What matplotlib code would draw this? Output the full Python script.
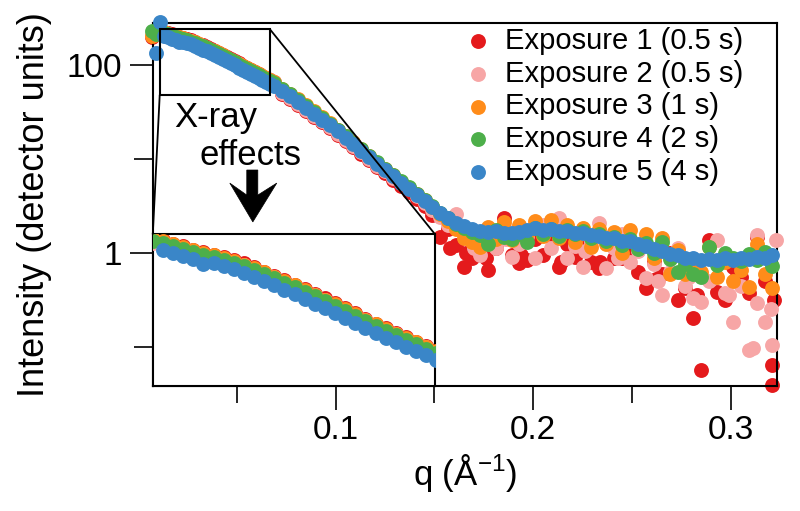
import numpy as np
from matplotlib import pyplot as plt
from matplotlib.patches import Rectangle, Polygon, ConnectionPatch

plt.rcParams['font.family'] = ['Liberation Sans', 'DejaVu Sans']
plt.rcParams['mathtext.fontset'] = 'custom'
plt.rcParams['mathtext.rm'] = 'Liberation Sans'

nan = float('nan')

# q values (1/Angstrom): finer steps below 0.07, coarser above
q_low = [0.007, 0.009, 0.011, 0.013, 0.015, 0.017, 0.019, 0.021, 0.023, 0.025, 0.027,
         0.029, 0.031, 0.033, 0.035, 0.037, 0.039, 0.041, 0.043, 0.045, 0.047, 0.049,
         0.051, 0.053, 0.055, 0.057, 0.059, 0.061, 0.063, 0.065, 0.067, 0.069]
q_high = [0.073, 0.077, 0.081, 0.085, 0.089, 0.093, 0.097, 0.101, 0.105, 0.109, 0.113,
          0.117, 0.121, 0.125, 0.129, 0.133, 0.137, 0.141, 0.145, 0.149, 0.153, 0.157,
          0.161, 0.165, 0.169, 0.173, 0.177, 0.181, 0.185, 0.189, 0.193, 0.197, 0.201,
          0.205, 0.209, 0.213, 0.217, 0.221, 0.225, 0.229, 0.233, 0.237, 0.241, 0.245,
          0.249, 0.253, 0.257, 0.261, 0.265, 0.269, 0.273, 0.277, 0.281, 0.285, 0.289,
          0.293, 0.297, 0.301, 0.305, 0.309, 0.313, 0.317, 0.321]

# log10 of intensity (detector units)
log_i_exp1 = [2.30, 2.34, 2.35, 2.352, 2.338, 2.325, 2.310, 2.298, 2.286, 2.275, 2.262,
              2.246, 2.228, 2.209, 2.190, 2.170, 2.149, 2.128, 2.106, 2.085, 2.062, 2.040,
              2.017, 1.992, 1.968, 1.948, 1.926, 1.906, 1.885, 1.866, 1.845, 1.822,
              1.69, 1.64, 1.58, 1.515, 1.45, 1.39, 1.325, 1.26, 1.19, 1.125, 1.05, 0.985,
              0.915, 0.85, 0.78, 0.715, 0.65, 0.58, 0.50, 0.40, 0.17, 0.26, 0.09, -0.15,
              -0.05, 0.10, -0.18, 0.05, 0.37, -0.02, -0.11, -0.07, 0.15, -0.02, 0.20, -0.15,
              0.10, -0.04, 0.05, -0.10, -0.16, 0.12, -0.05, -0.05, 0.05, -0.20, -0.37, -0.10,
              -0.22, 0.00, -0.50, -0.37, -0.69, -1.245, 0.14, -0.41, -0.50, -0.15, -0.25,
              -0.43, 0.17, -0.30, -1.40]
log_i_exp2 = [2.32, 2.33, 2.34, 2.347, 2.331, 2.319, 2.303, 2.290, 2.279, 2.267, 2.255,
              2.238, 2.221, 2.203, 2.183, 2.162, 2.142, 2.120, 2.099, 2.077, 2.055, 2.033,
              2.009, 1.984, 1.962, 1.941, 1.920, 1.899, 1.879, 1.859, 1.839, 1.815,
              1.70, 1.650, 1.590, 1.525, 1.462, 1.400, 1.336, 1.27, 1.205, 1.14, 1.07, 1.00,
              0.93, 0.87, 0.80, 0.74, 0.69, 0.61, 0.53, 0.46, 0.38, 0.30, 0.42, 0.20, 0.15,
              -0.02, 0.12, 0.05, 0.28, -0.04, 0.10, 0.18, -0.05, 0.30, 0.05, 0.37, -0.05,
              0.08, -0.15, 0.12, 0.32, -0.16, 0.05, 0.20, -0.10, 0.02, -0.27, -0.12, -0.45,
              -0.20, 0.05, -0.35, -0.48, -0.52, -0.30, 0.14, -0.42, -0.73, -0.35, -1.03,
              -0.53, -0.73, -0.98]
log_i_exp3 = [2.31, 2.35, 2.36, 2.350, 2.334, 2.322, 2.306, 2.293, 2.283, 2.270, 2.259,
              2.241, 2.224, 2.206, 2.186, 2.165, 2.145, 2.123, 2.102, 2.080, 2.058, 2.036,
              2.012, 1.987, 1.965, 1.944, 1.923, 1.902, 1.882, 1.862, 1.842, 1.818,
              1.748, 1.694, 1.636, 1.572, 1.507, 1.444, 1.380, 1.314, 1.246, 1.176, 1.106,
              1.035, 0.963, 0.895, 0.827, 0.760, 0.693, 0.626, 0.560, 0.494, 0.41, 0.34,
              0.26, 0.16, 0.12, 0.06, 0.28, 0.15, 0.33, 0.14, 0.30, 0.20, 0.34, 0.18, 0.35,
              0.16, 0.30, 0.12, 0.27, 0.06, 0.26, 0.10, 0.22, 0.00, 0.24, 0.05, 0.20, -0.05,
              0.16, -0.22, 0.03, -0.22, -0.08, -0.20, 0.06, -0.25, -0.10, -0.30, -0.18,
              -0.36, 0.10, -0.22, -0.37]
log_i_exp4 = [2.36, 2.33, 2.35, 2.342, 2.326, 2.314, 2.298, 2.285, 2.274, 2.262, 2.250,
              2.233, 2.216, 2.198, 2.178, 2.157, 2.137, 2.115, 2.094, 2.072, 2.050, 2.028,
              2.004, 1.979, 1.957, 1.936, 1.915, 1.894, 1.874, 1.854, 1.834, 1.81,
              1.745, 1.69, 1.632, 1.568, 1.503, 1.440, 1.376, 1.311, 1.244, 1.175, 1.106,
              1.036, 0.965, 0.898, 0.830, 0.764, 0.698, 0.632, 0.566, 0.500, 0.43, 0.37,
              0.31, 0.27, 0.22, 0.19, 0.10, 0.24, 0.17, 0.15, 0.20, 0.12, 0.27, 0.20, 0.26,
              0.18, 0.25, 0.20, 0.23, 0.16, 0.20, 0.13, 0.17, 0.09, 0.15, 0.04, 0.11, 0.00,
              0.12, -0.06, -0.20, -0.12, -0.22, -0.26, 0.06, -0.13, 0.00, -0.05, -0.09,
              -0.01, -0.07, 0.01, -0.14]
log_i_exp5 = [nan, 2.13, 2.46, 2.31, 2.294, 2.282, 2.265, 2.245, 2.25, 2.236, 2.222,
              2.200, 2.184, 2.165, 2.145, 2.124, 2.104, 2.082, 2.061, 2.039, 2.018, 1.996,
              1.972, 1.947, 1.924, 1.903, 1.883, 1.862, 1.843, 1.823, 1.803, 1.78,
              1.72, 1.666, 1.609, 1.546, 1.482, 1.420, 1.357, 1.293, 1.227, 1.158, 1.089,
              1.020, 0.950, 0.883, 0.816, 0.750, 0.684, 0.619, 0.554, 0.488, 0.425, 0.368,
              0.32, 0.283, 0.255, 0.238, 0.222, 0.230, 0.210, 0.218, 0.225, 0.245, 0.262,
              0.248, 0.252, 0.232, 0.236, 0.215, 0.212, 0.190, 0.182, 0.160, 0.158, 0.132,
              0.128, 0.095, 0.078, 0.038, 0.022, -0.015, -0.025, -0.055, -0.050, -0.072,
              -0.062, -0.078, -0.058, -0.075, -0.055, -0.064, -0.042, -0.050, -0.025]

# extra scattered points of the two short exposures
q_extra_exp1 = [0.158, 0.166, 0.176, 0.194, 0.214, 0.234, 0.262, 0.283, 0.303, 0.321, 0.322]
log_i_extra_exp1 = [0.05, 0.00, -0.05, -0.02, -0.10, -0.10, -0.28, -0.45, -0.20, -1.19, -0.50]
q_extra_exp2 = [0.170, 0.186, 0.206, 0.226, 0.243, 0.263, 0.279, 0.299, 0.311, 0.313, 0.3205, 0.323]
log_i_extra_exp2 = [0.05, 0.15, 0.28, 0.02, -0.05, -0.30, -0.25, -0.45, -1.01, 0.19, -0.60, 0.14]

labels = ['Exposure 1 (0.5 s)', 'Exposure 2 (0.5 s)', 'Exposure 3 (1 s)',
          'Exposure 4 (2 s)', 'Exposure 5 (4 s)']
colors = ['#e41a1c', '#f7a6a6', '#ff8c1a', '#4daf4a', '#3a86c8']

q = np.array(q_low + q_high)
series = [log_i_exp1, log_i_exp2, log_i_exp3, log_i_exp4, log_i_exp5]
extras = {0: (q_extra_exp1, log_i_extra_exp1), 1: (q_extra_exp2, log_i_extra_exp2)}

# zoomed region shown in the inset
zoom_q = (0.011, 0.0667)
zoom_i = (48, 241)

fig = plt.figure(figsize=(8, 5.11), dpi=100)
ax = fig.add_axes([0.191, 0.2446, 0.780, 0.7104])
axins = fig.add_axes([0.191, 0.2446, 0.3525, 0.2975])

ms = 115
handles = []
for k, (vals, lab, col) in enumerate(zip(series, labels, colors)):
    qq, ll = q, np.array(vals)
    if k in extras:
        qq = np.concatenate([q, extras[k][0]])
        ll = np.concatenate([ll, extras[k][1]])
    h = ax.scatter(qq, 10 ** ll, s=ms, color=col, linewidths=0, label=lab,
                   clip_on=False, zorder=2 + k)
    axins.scatter(qq, 10 ** ll, s=ms, color=col, linewidths=0, zorder=2 + k)
    handles.append(h)

ax.set_yscale('log')
ax.set_xlim(0.0075, 0.3232)
ax.set_ylim(0.0385, 280)
ax.set_xticks([0.1, 0.2, 0.3], ['0.1', '0.2', '0.3'])
ax.set_xticks([0.05, 0.15, 0.25], minor=True)
ax.set_yticks([1, 100], ['1', '100'])
ax.set_yticks([0.1, 10], minor=True)
ax.yaxis.set_minor_formatter(plt.NullFormatter())
ax.tick_params(axis='x', which='major', length=17, width=1.2, labelsize=24, pad=4)
ax.tick_params(axis='x', which='minor', length=12, width=1.2)
ax.tick_params(axis='y', which='major', length=16.5, width=1.2, labelsize=24, pad=6)
ax.tick_params(axis='y', which='minor', length=14, width=1.2)
for sp in ax.spines.values():
    sp.set_linewidth(1.5)
ax.set_xlabel(r'q (Å$^{\mathregular{-1}}$)', fontsize=25, labelpad=4)
ax.set_ylabel('Intensity (detector units)', fontsize=26, labelpad=10)

axins.set_yscale('log')
axins.set_xlim(*zoom_q)
axins.set_ylim(*zoom_i)
axins.set_xticks([])
axins.set_yticks([])
axins.yaxis.set_minor_locator(plt.NullLocator())
for sp in axins.spines.values():
    sp.set_linewidth(1.5)

ax.add_patch(Rectangle((zoom_q[0], zoom_i[0]), zoom_q[1] - zoom_q[0], zoom_i[1] - zoom_i[0],
                       fill=False, lw=1.5, ec='black', zorder=10))
for xa, xb in [((zoom_q[1], zoom_i[1]), (1, 1)), ((zoom_q[0], zoom_i[0]), (0, 1))]:
    con = ConnectionPatch(xyA=xa, coordsA=ax.transData, xyB=xb, coordsB=axins.transAxes,
                          color='black', lw=1.3, zorder=10)
    fig.add_artist(con)

ax.text(0.035, 0.713, 'X-ray', transform=ax.transAxes, fontsize=25, va='baseline')
ax.text(0.075, 0.609, 'effects', transform=ax.transAxes, fontsize=25, va='baseline')
arrow = [(0.1506, 0.595), (0.1683, 0.595), (0.1683, 0.526), (0.1987, 0.559),
         (0.1603, 0.452), (0.1234, 0.559), (0.1506, 0.526)]
ax.add_patch(Polygon(arrow, closed=True, transform=ax.transAxes, fc='black', ec='black',
                     lw=0.5, zorder=11))

ax.legend(handles=handles, loc='upper left', bbox_to_anchor=(0.5825, 0.947),
          bbox_transform=fig.transFigure, frameon=False, fontsize=21,
          handlelength=0.8, handletextpad=0.55, labelspacing=0.16, borderpad=0,
          borderaxespad=0, scatterpoints=1)

fig.savefig('out.png', dpi=100)
